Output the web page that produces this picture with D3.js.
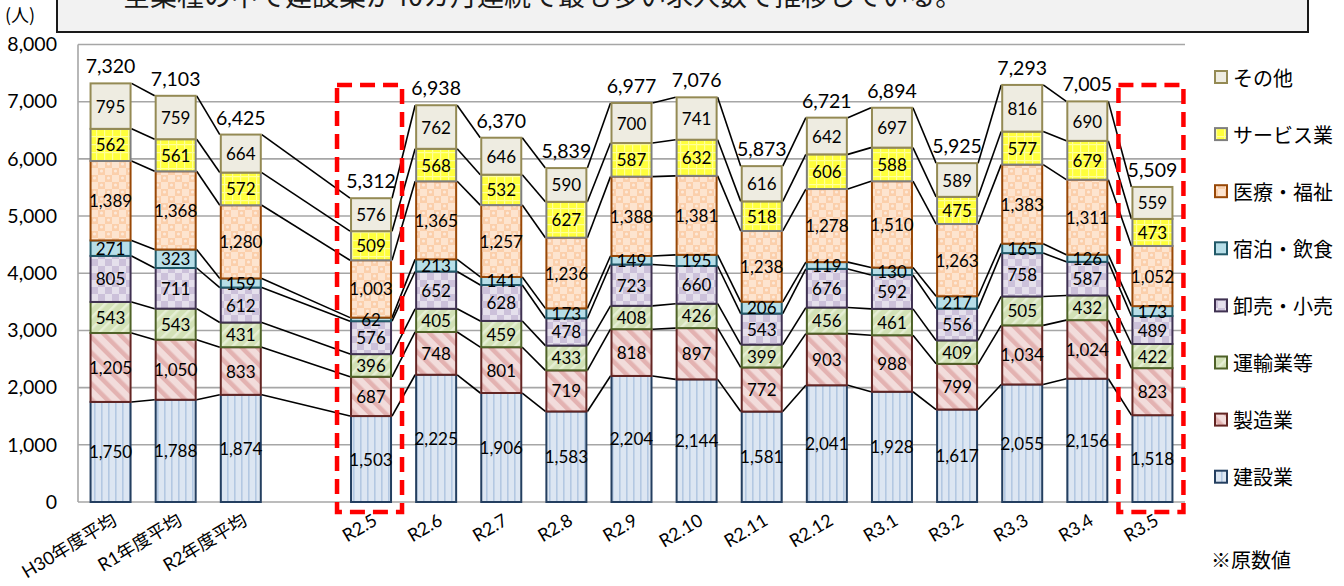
<!DOCTYPE html>
<html><head><meta charset="utf-8">
<script src="https://cdn.jsdelivr.net/npm/d3@7"></script>
<style>
html,body{margin:0;padding:0;background:#fff;}
svg{display:block;}
</style></head>
<body>
<svg id="chart" width="1344" height="586"></svg>
<script>
const title = "全業種の中で建設業が40カ月連続で最も多い求人数で推移している。";
const unitLabel = "(人)";
const note = "※原数値";
const categories = ["H30年度平均","R1年度平均","R2年度平均","R2.5","R2.6","R2.7","R2.8","R2.9","R2.10","R2.11","R2.12","R3.1","R3.2","R3.3","R3.4","R3.5"];
const seriesNames = ["建設業","製造業","運輸業等","卸売・小売","宿泊・飲食","医療・福祉","サービス業","その他"];
const kensetsu  = [1750,1788,1874,1503,2225,1906,1583,2204,2144,1581,2041,1928,1617,2055,2156,1518];
const seizou    = [1205,1050,833,687,748,801,719,818,897,772,903,988,799,1034,1024,823];
const unyu      = [543,543,431,396,405,459,433,408,426,399,456,461,409,505,432,422];
const oroshi    = [805,711,612,576,652,628,478,723,660,543,676,592,556,758,587,489];
const shukuhaku = [271,323,159,62,213,141,173,149,195,206,119,130,217,165,126,173];
const iryou     = [1389,1368,1280,1003,1365,1257,1236,1388,1381,1238,1278,1510,1263,1383,1311,1052];
const service   = [562,561,572,509,568,532,627,587,632,518,606,588,475,577,679,473];
const sonota    = [795,759,664,576,762,646,590,700,741,616,642,697,589,816,690,559];
const totals    = [7320,7103,6425,5312,6938,6370,5839,6977,7076,5873,6721,6894,5925,7293,7005,5509];
const yTicks = [0,1000,2000,3000,4000,5000,6000,7000,8000];
const highlighted = ["R2.5","R3.5"];
const gapAfter = "R2年度平均";

const seriesValues = [kensetsu, seizou, unyu, oroshi, shukuhaku, iryou, service, sonota];
const borders = ["#243f60","#632523","#4f6228","#3f3151","#215968","#984807","#7f7f7f","#948a54"];

const svg = d3.select("#chart");
const defs = svg.append("defs");

function pat(id, w, h, base, transform){
  const p = defs.append("pattern").attr("id", id).attr("patternUnits","userSpaceOnUse")
    .attr("width", w).attr("height", h);
  if (transform) p.attr("patternTransform", transform);
  p.append("rect").attr("width", w).attr("height", h).attr("fill", base);
  return p;
}
let p;
p = pat("p0", 7, 7, "#dce6f2");
p.append("rect").attr("x",3).attr("width",1.6).attr("height",7).attr("fill","#b3c8e2");
p = pat("p1", 11, 11, "#f2dcdb", "rotate(-45)");
p.append("rect").attr("x",0).attr("width",4.5).attr("height",11).attr("fill","#e3b2b1");
p = pat("p2", 8, 8, "#d2e1b6", "rotate(45)");
p.append("rect").attr("x",0).attr("width",2.5).attr("height",8).attr("fill","#e6efd5");
p = pat("p3", 14, 14, "#e5e0ec");
p.append("rect").attr("width",7).attr("height",7).attr("fill","#ccc1da");
p.append("rect").attr("x",7).attr("y",7).attr("width",7).attr("height",7).attr("fill","#ccc1da");
p = pat("p4", 8, 8, "#b7dee8");
p = pat("p5", 14, 14, "#fde4cf");
p.append("rect").attr("width",7).attr("height",7).attr("fill","#fbcfab");
p.append("rect").attr("x",7).attr("y",7).attr("width",7).attr("height",7).attr("fill","#fbcfab");
p.append("circle").attr("cx",3.5).attr("cy",3).attr("r",1.6).attr("fill","#fde9d9");
p.append("circle").attr("cx",10.5).attr("cy",10).attr("r",1.6).attr("fill","#fde9d9");
p = pat("p6", 8, 8, "#ffff3c");
p.append("rect").attr("x",0).attr("width",1.2).attr("height",8).attr("fill","#ffff99");
p.append("rect").attr("y",0).attr("width",8).attr("height",1.2).attr("fill","#ffff99");
p = pat("p7", 8, 8, "#eeece1");

const fills = seriesNames.map((d,i)=>`url(#p${i})`);

const slots = [];
categories.forEach(c => { slots.push(c); if (c === gapAfter) slots.push("__gap__"); });
const x = d3.scaleBand().domain(slots).range([78, 1185]).paddingInner(0.355).paddingOuter(0.1775);
const y = d3.scaleLinear().domain([0, 8000]).range([502, 44.5]);

// title box
svg.append("rect").attr("x",57).attr("y",-10).attr("width",1251).attr("height",42)
  .attr("fill","#f2f2f2").attr("stroke","#1a1a1a").attr("stroke-width",2);
svg.append("text").attr("x",123).attr("y",6).attr("font-family","'Noto Sans CJK JP'")
  .attr("font-size",27).attr("fill","#1a1a1a").text(title);

svg.append("text").attr("x",5).attr("y",22).attr("font-family","'Noto Sans CJK JP'")
  .attr("font-size",18).attr("fill","#000").text(unitLabel);

// grid
const grid = svg.append("g");
grid.selectAll("line").data(yTicks).join("line")
  .attr("x1",78).attr("x2",1185).attr("y1",d=>y(d)).attr("y2",d=>y(d))
  .attr("stroke","#a6a6a6").attr("stroke-width",1.6);
svg.append("line").attr("x1",78).attr("x2",78).attr("y1",y(8000)).attr("y2",y(0))
  .attr("stroke","#a6a6a6").attr("stroke-width",1.6);

const yAxis = d3.axisLeft(y).tickValues(yTicks).tickFormat(d3.format(",")).tickSize(0).tickPadding(0);
const ya = svg.append("g").attr("transform","translate(57,0)").call(yAxis);
ya.select(".domain").remove();
ya.selectAll("text").attr("font-family","Lato").attr("font-size",19.5).attr("fill","#000");

const rows = categories.map((c,i)=>{
  const r = {cat:c};
  seriesNames.forEach((s,j)=> r[s] = seriesValues[j][i]);
  return r;
});
const stack = d3.stack().keys(seriesNames)(rows);

const lines = svg.append("g");
stack.forEach((layer)=>{
  for (let i=0;i<layer.length-1;i++){
    const a = layer[i], b = layer[i+1];
    lines.append("line")
      .attr("x1", x(a.data.cat)+x.bandwidth()).attr("y1", y(a[1]))
      .attr("x2", x(b.data.cat)).attr("y2", y(b[1]))
      .attr("stroke","#000").attr("stroke-width",1.6);
  }
});

const bars = svg.append("g");
stack.forEach((layer, j)=>{
  bars.append("g").selectAll("rect").data(layer).join("rect")
    .attr("x", d=>x(d.data.cat)+1).attr("width", x.bandwidth()-2)
    .attr("y", d=>y(d[1])).attr("height", d=>y(d[0])-y(d[1]))
    .attr("fill", fills[j]).attr("stroke", borders[j]).attr("stroke-width", 2);
});

const labels = svg.append("g").attr("font-family","Lato").attr("font-size",17).attr("fill","#000").attr("text-anchor","middle");
stack.forEach((layer)=>{
  labels.append("g").selectAll("text").data(layer).join("text")
    .attr("x", d=>x(d.data.cat)+x.bandwidth()/2)
    .attr("y", d=>(y(d[0])+y(d[1]))/2)
    .attr("dominant-baseline","central")
    .text(d=>d3.format(",")(d[1]-d[0]));
});

svg.append("g").selectAll("text").data(categories).join("text")
  .attr("x", d=>x(d)+x.bandwidth()/2)
  .attr("y", (d,i)=>y(totals[i])-10)
  .attr("text-anchor","middle").attr("font-family","Lato").attr("font-size",19.5).attr("fill","#000")
  .text((d,i)=>d3.format(",")(totals[i]));

svg.append("g").selectAll("rect").data(highlighted).join("rect")
  .attr("x", d=>x(d)-13).attr("width", x.bandwidth()+23)
  .attr("y", y(7290)).attr("height", 512-y(7290))
  .attr("fill","none").attr("stroke","#ff0000").attr("stroke-width",4.5)
  .attr("stroke-dasharray","15,8");

svg.append("g").selectAll("text").data(categories).join("text")
  .attr("transform", d=>`translate(${x(d)+x.bandwidth()/2+1},513) rotate(-31)`)
  .attr("text-anchor","end").attr("dy","0.7em")
  .attr("font-family","Lato, 'Noto Sans CJK JP'").attr("font-size",18).attr("fill","#000")
  .text(d=>d);

const legendNames = seriesNames.slice().reverse();
const lg = svg.append("g");
legendNames.forEach((s,k)=>{
  const j = seriesNames.indexOf(s);
  const cy = 77 + k*57.1;
  lg.append("rect").attr("x",1215).attr("y",cy-6).attr("width",12).attr("height",12)
    .attr("fill",fills[j]).attr("stroke",borders[j]).attr("stroke-width",2);
  lg.append("text").attr("x",1233).attr("y",cy).attr("dominant-baseline","central")
    .attr("font-family","'Noto Sans CJK JP'").attr("font-size",20).attr("fill","#000").text(s);
});
svg.append("text").attr("x",1211).attr("y",559).attr("dominant-baseline","central")
  .attr("font-family","'Noto Sans CJK JP'").attr("font-size",20).attr("fill","#000").text(note);
</script>
</body></html>
